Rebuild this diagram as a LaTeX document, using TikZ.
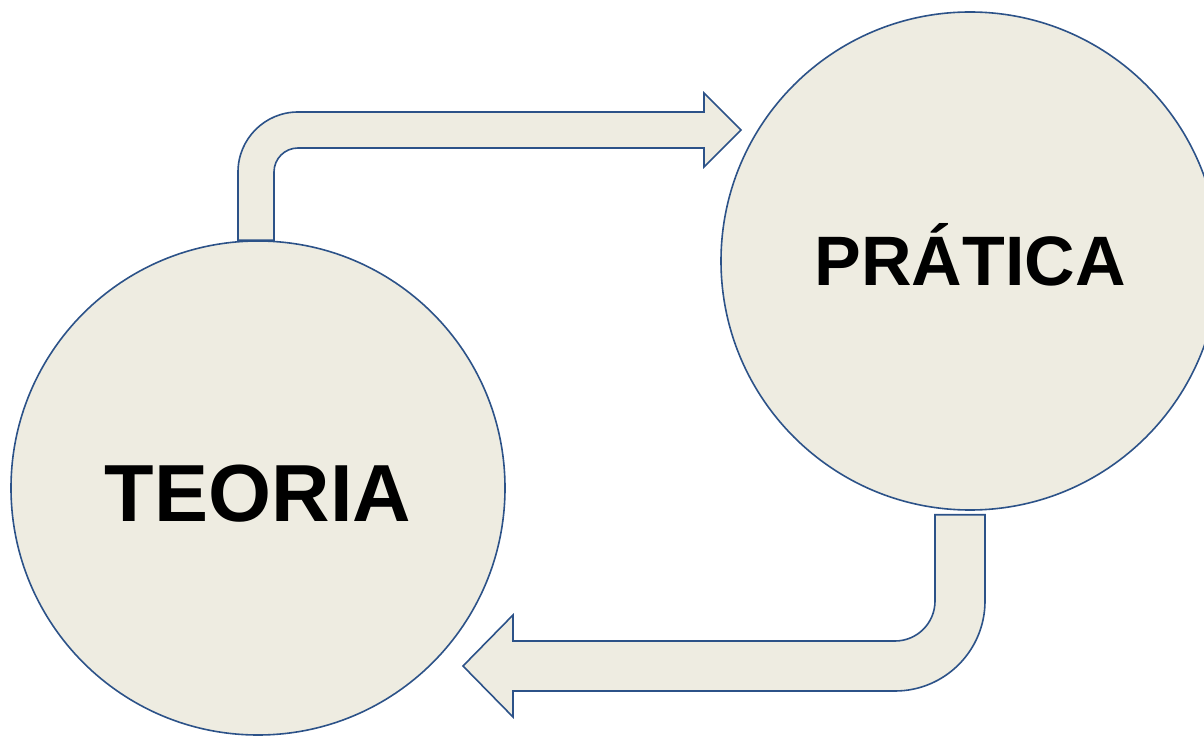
\documentclass[tikz,border=0pt]{standalone}
\usepackage{fontspec}
\setmainfont{Liberation Sans}
\usepackage{tikz}
\usetikzlibrary{calc}
\definecolor{beige1}{HTML}{EEECE1}
\definecolor{navy1}{HTML}{2C5288}

\begin{document}
\begin{tikzpicture}[
    x=1pt, y=1pt,
    bubble/.style={circle, draw=navy1, fill=beige1, line width=1.6pt,
                   inner sep=0pt, text depth=0pt,
                   font=\bfseries\fontsize{81}{90}\selectfont},
    bentarrow/.style={draw=navy1, fill=beige1, line width=1.6pt,
                      line join=miter},
]
\useasboundingbox (0,0) rectangle (1204,742);

\node[bubble, minimum size=494pt, text height=66pt]
    (teoria) at (258,254) {TEORIA};
\node[bubble, minimum size=498pt, text height=50pt,
      font=\bfseries\fontsize{70}{80}\selectfont]
    (pratica) at (970,481) {PRÁTICA};

% teoria -> pratica
\draw[bentarrow] ($(teoria.north)+(-20,0)$) -- (238,570)
    arc[start angle=180, end angle=90, radius=60] -- (704,630)
    -- (704,649) -- (741,612) -- (704,575) -- (704,594) -- (298,594)
    arc[start angle=90, end angle=180, radius=24]
    -- ($(teoria.north)+(16,0)$) -- cycle;

% pratica -> teoria
\draw[bentarrow] ($(pratica.south)+(-35,-4)$) -- ($(pratica.south)+(15,-4)$)
    -- (985,141) arc[start angle=0, end angle=-90, radius=90]
    -- (513,51) -- (513,25) -- (463,76) -- (513,127) -- (513,101)
    -- (895,101) arc[start angle=-90, end angle=0, radius=40] -- cycle;
\end{tikzpicture}
\end{document}
